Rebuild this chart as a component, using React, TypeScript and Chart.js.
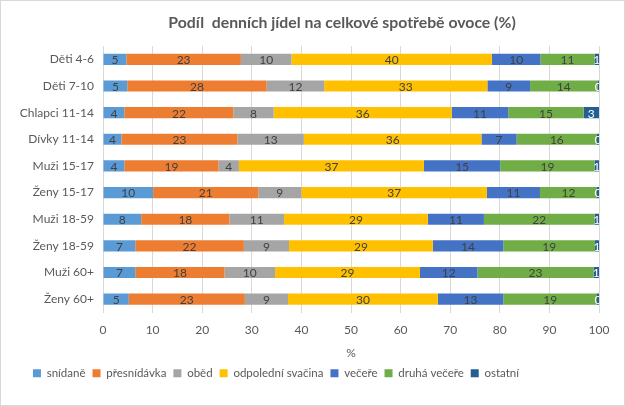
import React, { useEffect, useRef } from "react";
import { Chart, registerables } from "chart.js";

Chart.register(...registerables);

const categories = ["Děti 4-6", "Děti 7-10", "Chlapci 11-14", "Dívky 11-14", "Muži 15-17", "Ženy 15-17", "Muži 18-59", "Ženy 18-59", "Muži 60+", "Ženy 60+"];
const snidane = [4.7, 4.9, 4.3, 3.7, 4.3, 10.1, 7.7, 6.5, 6.5, 5.2];
const presnidavka = [23.1, 28.1, 22.0, 23.4, 19.0, 21.2, 17.8, 21.9, 18.0, 23.4];
const obed = [10.2, 11.6, 8.1, 13.4, 4.1, 8.7, 11.0, 9.1, 10.2, 8.7];
const svacina = [40.4, 32.9, 35.9, 35.8, 37.3, 37.4, 29.0, 29.0, 29.2, 30.2];
const vecere = [9.8, 8.6, 11.4, 7.1, 15.4, 10.7, 11.3, 14.2, 11.6, 13.2];
const druhaVecere = [10.9, 13.6, 15.2, 16.2, 19.0, 11.5, 22.3, 18.5, 23.4, 18.9];
const ostatni = [0.9, 0.3, 3.1, 0.4, 0.9, 0.4, 0.9, 0.8, 1.1, 0.4];
const xTicks = [0, 10, 20, 30, 40, 50, 60, 70, 80, 90, 100];
const titleText = "Podíl  denních jídel na celkové spotřebě ovoce (%)";

const seriesNames = ["snídaně", "přesnídávka", "oběd", "odpolední svačina", "večeře", "druhá večeře", "ostatní"];
const seriesData = [snidane, presnidavka, obed, svacina, vecere, druhaVecere, ostatni];
const seriesColors = ["#5B9BD5", "#ED7D31", "#A5A5A5", "#FFC000", "#4472C4", "#70AD47", "#255E91"];
const labelColors = ["#404040", "#404040", "#404040", "#404040", "#404040", "#404040", "#ffffff"];

const FONT = "Lato, 'Open Sans', sans-serif";

const labelPlugin = {
  id: "segLabels",
  afterDatasetsDraw(chart: any) {
    const ctx = chart.ctx;
    const area = chart.chartArea;
    ctx.save();
    ctx.beginPath();
    ctx.rect(area.left, area.top, area.right - area.left, area.bottom - area.top);
    ctx.clip();
    ctx.font = `12px ${FONT}`;
    ctx.textAlign = "center";
    ctx.textBaseline = "middle";
    chart.data.datasets.forEach((ds: any, di: number) => {
      const meta = chart.getDatasetMeta(di);
      meta.data.forEach((el: any, i: number) => {
        const v = ds.data[i];
        const cx = (el.x + el.base) / 2;
        ctx.fillStyle = labelColors[di];
        ctx.fillText(String(Math.round(v)), cx, el.y + 1);
      });
    });
    ctx.restore();
  },
};

const titlePlugin = {
  id: "customTitle",
  afterDraw(chart: any) {
    const ctx = chart.ctx;
    const area = chart.chartArea;
    ctx.save();
    ctx.font = `bold 15.8px ${FONT}`;
    ctx.fillStyle = "#595959";
    ctx.textAlign = "center";
    ctx.textBaseline = "middle";
    ctx.fillText(titleText, (area.left + area.right) / 2 - 9, 22);
    ctx.restore();
  },
};

const legendShift = {
  id: "legendShift",
  afterLayout(chart: any) {
    const lg = chart.legend;
    if (lg) {
      lg.left -= 24;
      lg.right -= 24;
    }
  },
};

export default function App() {
  const ref = useRef<HTMLCanvasElement>(null);
  useEffect(() => {
    document.body.style.margin = "0";
    const chart = new Chart(ref.current!, {
      type: "bar",
      data: {
        labels: categories,
        datasets: seriesNames.map((name, i) => ({
          label: name,
          data: seriesData[i],
          backgroundColor: seriesColors[i],
          borderWidth: 0,
          categoryPercentage: 0.42,
          barPercentage: 1,
        })),
      },
      options: {
        indexAxis: "y",
        animation: false,
        responsive: false,
        maintainAspectRatio: false,
        layout: { padding: { top: 45, right: 25, left: 0, bottom: 16 } },
        scales: {
          x: {
            stacked: true,
            min: 0,
            max: 100,
            afterBuildTicks: (scale: any) => {
              scale.ticks = xTicks.map((v) => ({ value: v }));
            },
            afterFit: (scale: any) => {
              scale.height = 48;
            },
            grid: { color: "#d9d9d9", drawTicks: false },
            border: { display: false },
            ticks: { color: "#595959", font: { family: FONT, size: 12 }, padding: 10 },
            title: { display: true, text: "%", color: "#595959", font: { family: FONT, size: 12 }, padding: { top: 2, bottom: 0 } },
          },
          y: {
            stacked: true,
            afterFit: (scale: any) => {
              scale.width = 102;
            },
            grid: { display: false, drawTicks: false },
            border: { display: false },
            ticks: { color: "#595959", font: { family: FONT, size: 12 }, padding: 9 },
          },
        },
        plugins: {
          title: { display: false },
          tooltip: { enabled: false },
          legend: {
            position: "bottom",
            labels: {
              color: "#595959",
              font: { family: FONT, size: 11.5 },
              boxWidth: 8,
              boxHeight: 8,
              padding: 7,
            },
          },
        },
      },
      plugins: [labelPlugin, titlePlugin, legendShift],
    } as any);
    return () => chart.destroy();
  }, []);
  return (
    <div style={{ position: "absolute", left: 0, top: 0, width: 625, height: 406, boxSizing: "border-box", border: "1px solid #d9d9d9", background: "#fff" }}>
      <canvas ref={ref} width={623} height={404} style={{ display: "block" }} />
    </div>
  );
}
